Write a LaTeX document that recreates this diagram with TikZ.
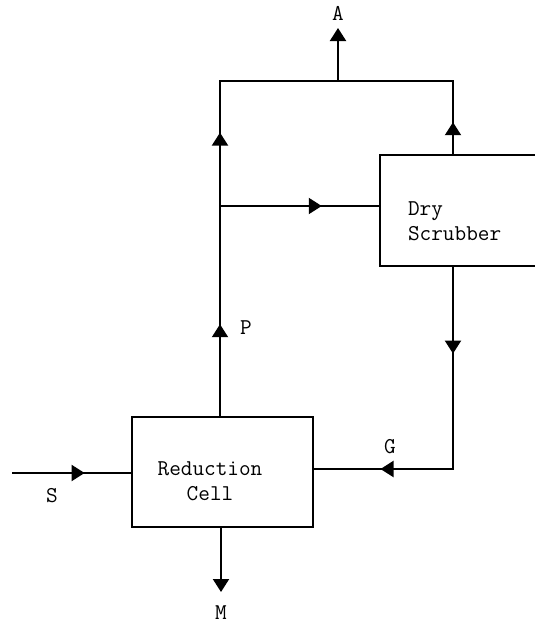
\documentclass[tikz,border=0pt]{standalone}
\usetikzlibrary{arrows.meta,decorations.markings}

\tikzset{
  punta/.tip={Triangle[width=8pt,length=6.5pt]},
  linea/.style={line width=1pt},
  caja/.style={draw, line width=1pt, rectangle, inner sep=0pt},
  texto/.style={font=\ttfamily\fontsize{11.3}{12.5}\selectfont, align=center},
  flujo/.style={postaction={decorate,decoration={markings,
      mark=at position #1 with {\arrow{punta}}}}},
}

\begin{document}
\begin{tikzpicture}[x=0.5pt, y=-0.5pt]
    % Marco de la figura
    \useasboundingbox (0,0) rectangle (535,622);
    \clip (0,0) rectangle (535,622);

    % Bloques
    \node[caja, minimum width=90.5pt, minimum height=55pt] (cell) at (222.5,472) {};
    \node[texto] (celltxt) at (210,481) {Reduction\\Cell};
    \node[caja, minimum width=90pt, minimum height=55.5pt] (scrubber) at (470,210.5) {};
    \node[texto, align=left, anchor=west] (scrubtxt) at (401,221) {Dry\\Scrubber};

    % Puntos de union
    \coordinate (split) at (220,206);
    \coordinate (topL) at (220,81);
    \coordinate (topA) at (338,81);
    \coordinate (topR) at (453,81);
    \coordinate (outA) at (338,28);
    \coordinate (corner) at (453,469);
    \coordinate (inS) at (12,473);
    \coordinate (outM) at (221,592);

    % Salida de la celda hacia arriba (P)
    \draw[linea, flujo=0.2026, flujo=0.6256] (cell.north -| split) -- (topL) -- (topA);
    % Salida del depurador
    \draw[linea, flujo=0.169] (scrubber.north -| topR) -- (topR) -- (topA);
    \draw[linea, -{punta}] (topA) -- (outA);
    % Derivacion al depurador
    \draw[linea, flujo=0.64] (split) -- (scrubber.west |- split);
    % Retorno G
    \draw[linea, flujo=0.254, flujo=0.805] (scrubber.south -| topR) -- (corner) -- (cell.east |- corner);
    % Entrada S y salida M
    \draw[linea, flujo=0.61] (inS) -- (cell.west |- inS);
    \draw[linea, -{punta}] (cell.south -| outM) -- (outM);

    % Etiquetas
    \node[texto] (labA) at (338,13) {A};
    \node[texto] (labP) at (246,328) {P};
    \node[texto] (labG) at (390,447) {G};
    \node[texto] (labS) at (52,496) {S};
    \node[texto] (labM) at (221,613) {M};
\end{tikzpicture}
\end{document}
